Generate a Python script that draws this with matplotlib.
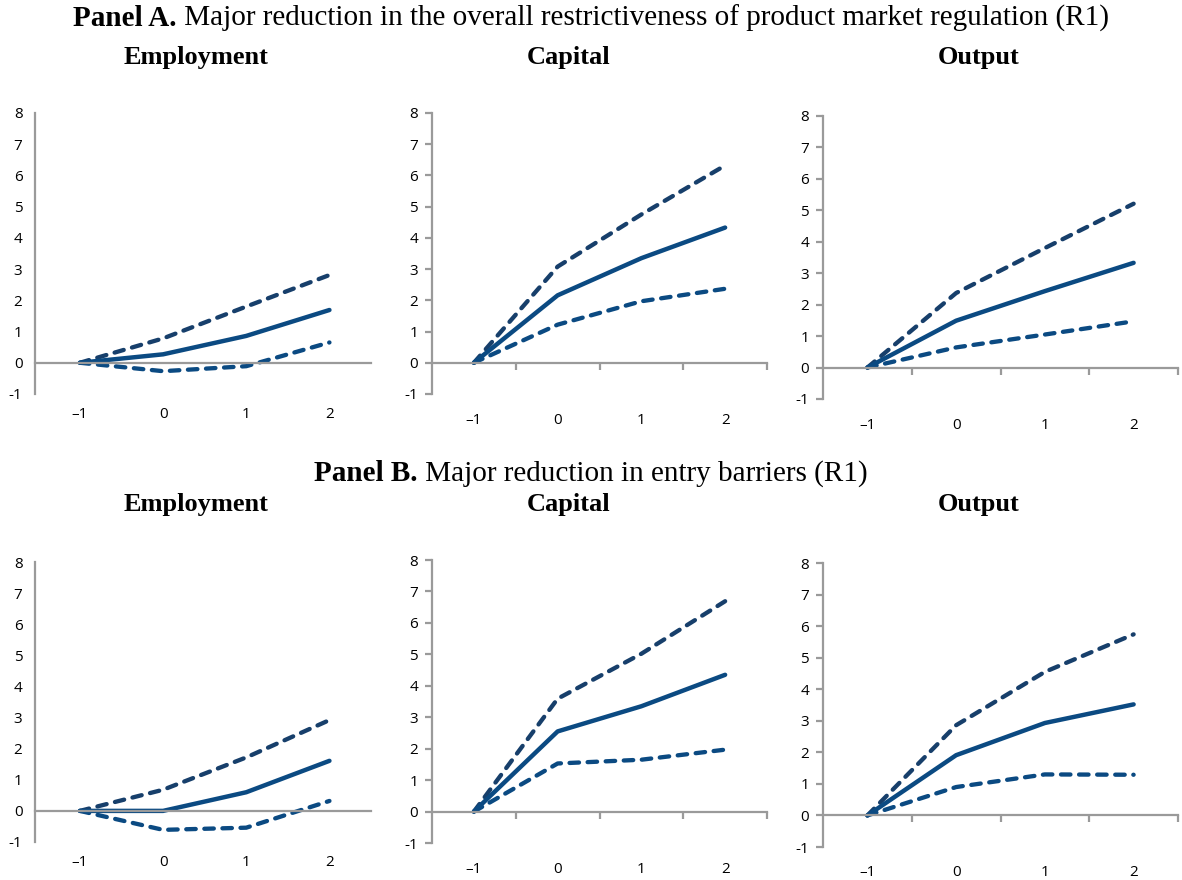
import matplotlib.pyplot as plt
import numpy as np

# event time (years relative to reform)
periods = [-1, 0, 1, 2]
period_labels = ['\u20131', '0', '1', '2']
y_ticks = list(range(-1, 9))
y_labels = ['-1', '0', '1', '2', '3', '4', '5', '6', '7', '8']

# Panel A: overall PMR reduction
a_emp_mid = [0, 0.27, 0.86, 1.69]
a_emp_hi = [0, 0.78, 1.80, 2.81]
a_emp_lo = [0, -0.27, -0.11, 0.65]
a_cap_mid = [0, 2.16, 3.35, 4.33]
a_cap_hi = [0, 3.08, 4.75, 6.32]
a_cap_lo = [0, 1.22, 1.97, 2.37]
a_out_mid = [0, 1.49, 2.43, 3.33]
a_out_hi = [0, 2.37, 3.80, 5.21]
a_out_lo = [0, 0.64, 1.05, 1.47]

# Panel B: entry barriers reduction
b_emp_mid = [0, 0.0, 0.60, 1.61]
b_emp_hi = [0, 0.68, 1.72, 2.92]
b_emp_lo = [0, -0.61, -0.54, 0.32]
b_cap_mid = [0, 2.55, 3.35, 4.35]
b_cap_hi = [0, 3.59, 5.02, 6.69]
b_cap_lo = [0, 1.53, 1.65, 1.97]
b_out_mid = [0, 1.91, 2.93, 3.52]
b_out_hi = [0, 2.86, 4.55, 5.74]
b_out_lo = [0, 0.90, 1.30, 1.29]

navy = '#0b4a82'
navy_dark = '#173f6b'
grey = '#9a9a9a'

fig = plt.figure(figsize=(11.82, 8.8), dpi=100)
plt.rcParams['font.family'] = ['Open Sans', 'DejaVu Sans']


def draw(rect, mid, hi, lo, ticks):
    ax = fig.add_axes(rect)
    dash = dict(lw=3.1, ls=(0, (2.2, 2.0)), dash_capstyle='round', solid_capstyle='round')
    ax.plot(periods, hi, color=navy_dark, **dash)
    ax.plot(periods, lo, color=navy, **dash)
    ax.plot(periods, mid, color=navy, lw=3.2, solid_capstyle='round')
    ax.set_ylim(-1, 8)
    for s in ['top', 'right']:
        ax.spines[s].set_visible(False)
    ax.spines['left'].set_color(grey)
    ax.spines['left'].set_linewidth(1.6)
    ax.spines['bottom'].set_color(grey)
    ax.spines['bottom'].set_linewidth(1.6)
    ax.spines['bottom'].set_position(('data', 0))
    ax.set_yticks(y_ticks, labels=y_labels)
    if ticks:
        ax.set_xlim(-1.5, 2.5)
        ax.set_xticks(np.arange(-0.5, 2.6, 1.0), labels=[])
        ax.tick_params(axis='x', which='major', length=5, width=1.6, color=grey)
        ax.tick_params(axis='y', length=5, width=1.6, color=grey, pad=5, labelsize=11)
        ax.tick_params(axis='x', which='minor', length=0, pad=36, labelsize=11)
    else:
        ax.set_xlim(-1.54, 2.5)
        ax.set_xticks([])
        ax.tick_params(axis='y', length=0, pad=9, labelsize=11)
        ax.tick_params(axis='x', which='minor', length=0, pad=32, labelsize=11)
    ax.set_xticks(periods, labels=period_labels, minor=True)
    return ax


draw([0.0296, 0.5523, 0.2843, 0.3193], a_emp_mid, a_emp_hi, a_emp_lo, False)
draw([0.3655, 0.5523, 0.2834, 0.3193], a_cap_mid, a_cap_hi, a_cap_lo, True)
draw([0.6963, 0.5466, 0.3003, 0.3216], a_out_mid, a_out_hi, a_out_lo, True)
draw([0.0296, 0.0432, 0.2843, 0.3180], b_emp_mid, b_emp_hi, b_emp_lo, False)
draw([0.3655, 0.0420, 0.2834, 0.3216], b_cap_mid, b_cap_hi, b_cap_lo, True)
draw([0.6963, 0.0375, 0.3003, 0.3227], b_out_mid, b_out_hi, b_out_lo, True)

serif = 'Liberation Serif'
# panel headings: bold lead + regular text
for y, lead, rest in [(0.979, 'Panel A.', ' Major reduction in the overall restrictiveness of product market regulation (R1)'),
                      (0.462, 'Panel B.', ' Major reduction in entry barriers (R1)')]:
    t1 = fig.text(0.5, y, lead, family=serif, weight='bold', size=21, va='center', ha='left')
    t2 = fig.text(0.5, y, rest, family=serif, size=21, va='center', ha='left')
    fig.canvas.draw()
    r = fig.canvas.get_renderer()
    w1 = t1.get_window_extent(r).width / fig.bbox.width
    w2 = t2.get_window_extent(r).width / fig.bbox.width
    x0 = 0.5 - (w1 + w2) / 2
    t1.set_x(x0)
    t2.set_x(x0 + w1)

for y in [0.935, 0.427]:
    for x, name in zip([0.166, 0.481, 0.828], ['Employment', 'Capital', 'Output']):
        fig.text(x, y, name, family=serif, weight='bold', size=19, ha='center', va='center')

fig.savefig('out.png', dpi=100)
